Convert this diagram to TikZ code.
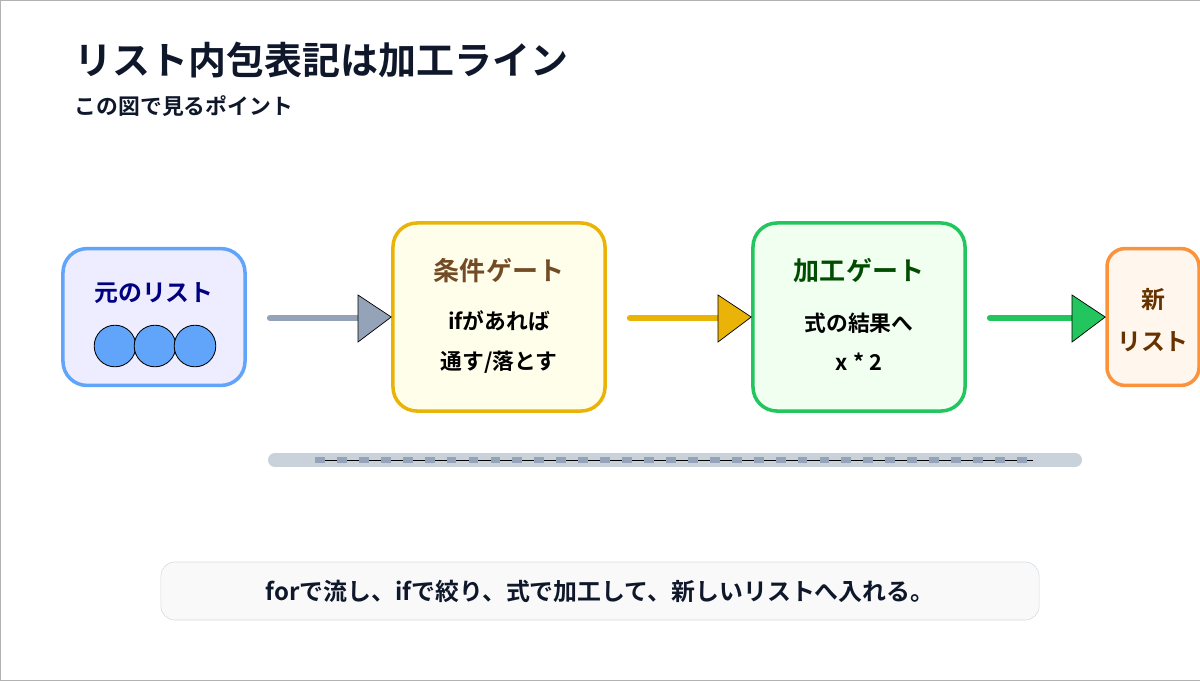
\documentclass[tikz,border=0pt]{standalone}
\usepackage{fontspec}
\setmainfont{Noto Sans CJK JP}[BoldFont={Noto Sans CJK JP Bold}]
\usetikzlibrary{positioning}
\definecolor{navy}{HTML}{0F172A}
\definecolor{blueline}{HTML}{60A5FA}
\definecolor{yellowline}{HTML}{EAB308}
\definecolor{greenline}{HTML}{22C55E}
\definecolor{orangeline}{HTML}{FB923C}
\definecolor{slate}{HTML}{94A3B8}
\begin{document}
\begin{tikzpicture}[x=0.025cm, y=-0.025cm,
  gate/.style={rectangle, rounded corners=0.6cm, line width=2.5pt, align=center},
  flow/.style={line width=4.5pt, line cap=round},
  tip/.style={draw=black, line width=0.5pt}]
\useasboundingbox (0,0) rectangle (1200,680);
\draw[gray!60] (0,0) rectangle (1200,680);
% Title
\node[anchor=west, font=\bfseries\fontsize{27}{30}\selectfont, text=navy] (title) at (70,60) {リスト内包表記は加工ライン};
\node[anchor=west, font=\bfseries\fontsize{15.5}{18}\selectfont, text=navy] (subtitle) at (70,106) {この図で見るポイント};

% Boxes
\node[gate, draw=blueline, fill=blue!7!white, minimum width=4.55cm, minimum height=3.42cm] (source) at (154,317) {};
\node[gate, draw=yellowline, fill=yellow!8, minimum width=5.3cm, minimum height=4.7cm] (filter) at (499,317) {};
\node[gate, draw=greenline, fill=green!6, minimum width=5.3cm, minimum height=4.7cm] (process) at (859,317) {};
\node[gate, draw=orangeline, fill=orange!7, rounded corners=0.45cm, minimum width=2.3cm, minimum height=3.42cm] (result) at (1153,317) {};

% Text
\node[font=\bfseries\fontsize{17}{20}\selectfont, text=blue!50!black] at (154,293) {元のリスト};
\foreach \cx in {115,155,195}
  \draw[fill=blueline, line width=0.6pt] (\cx,346) circle (0.52cm);
\node[font=\bfseries\fontsize{18.5}{20}\selectfont, text=brown!60!black] at (499,271) {条件ゲート};
\node[font=\bfseries\fontsize{15.5}{28}\selectfont, align=center] at (499,342) {ifがあれば\\通す/落とす};
\node[font=\bfseries\fontsize{18.5}{20}\selectfont, text=green!30!black] at (859,271) {加工ゲート};
\node[font=\bfseries\fontsize{15.5}{28}\selectfont, align=center] at (859,342) {式の結果へ\\x * 2};
\node[font=\bfseries\fontsize{17}{30}\selectfont, text=orange!40!black, align=center] at (1153,320) {新\\リスト};

% Connectors
\draw[flow, slate] (270,318) -- (358,318);
\draw[tip, fill=slate] (358,295) -- (filter.west) -- (358,342) -- cycle;
\draw[flow, yellowline] (630,318) -- (718,318);
\draw[tip, fill=yellowline] (718,295) -- (process.west) -- (718,342) -- cycle;
\draw[flow, greenline] (990,318) -- (1072,318);
\draw[tip, fill=greenline] (1072,295) -- (result.west) -- (1072,342) -- cycle;

% Track
\draw[line width=10pt, line cap=round, color=slate!50] (275,460) -- (1075,460);
\draw[line width=0.6pt] (315,460) -- (1033,460);
\draw[line width=4pt, slate, dash pattern=on 7pt off 8.6pt] (315,460) -- (1033,460);

% Summary
\node[rectangle, rounded corners=0.35cm, draw=slate!40, fill=gray!5, minimum width=21.95cm, minimum height=1.45cm, font=\bfseries\fontsize{17}{20}\selectfont, text=navy] (summary) at (600,591) {forで流し、ifで絞り、式で加工して、新しいリストへ入れる。};
\end{tikzpicture}
\end{document}
